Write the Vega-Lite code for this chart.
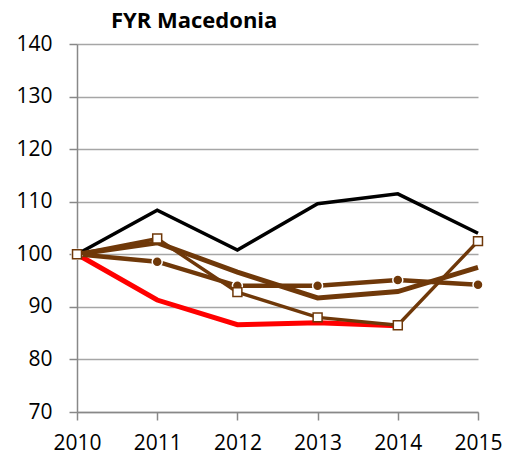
{
  "$schema": "https://vega.github.io/schema/vega-lite/v6.json",
  "width": 401,
  "height": 368,
  "autosize": {"type": "none"},
  "padding": {"left": 77, "top": 44, "right": 29, "bottom": 47},
  "config": {"view": {"stroke": null}, "font": "Open Sans"},
  "title": {"text": "FYR Macedonia", "fontSize": 22, "fontWeight": "bold", "anchor": "start", "dx": 95, "offset": 0, "color": "black", "font": "Open Sans"},
  "data": {"values": [
    {"series": "A", "year": 2010, "value": 100},
    {"series": "A", "year": 2011, "value": 108.4},
    {"series": "A", "year": 2012, "value": 100.8},
    {"series": "A", "year": 2013, "value": 109.6},
    {"series": "A", "year": 2014, "value": 111.5},
    {"series": "A", "year": 2015, "value": 104.0},
    {"series": "R", "year": 2010, "value": 100},
    {"series": "R", "year": 2011, "value": 91.3},
    {"series": "R", "year": 2012, "value": 86.6},
    {"series": "R", "year": 2013, "value": 87.0},
    {"series": "R", "year": 2014, "value": 86.4},
    {"series": "P", "year": 2010, "value": 100},
    {"series": "P", "year": 2011, "value": 102.2},
    {"series": "P", "year": 2012, "value": 96.6},
    {"series": "P", "year": 2013, "value": 91.7},
    {"series": "P", "year": 2014, "value": 92.9},
    {"series": "P", "year": 2015, "value": 97.5},
    {"series": "C", "year": 2010, "value": 100},
    {"series": "C", "year": 2011, "value": 98.6},
    {"series": "C", "year": 2012, "value": 94.0},
    {"series": "C", "year": 2013, "value": 94.0},
    {"series": "C", "year": 2014, "value": 95.1},
    {"series": "C", "year": 2015, "value": 94.2},
    {"series": "S", "year": 2010, "value": 100},
    {"series": "S", "year": 2011, "value": 103.0},
    {"series": "S", "year": 2012, "value": 92.8},
    {"series": "S", "year": 2013, "value": 88.0},
    {"series": "S", "year": 2014, "value": 86.5},
    {"series": "S", "year": 2015, "value": 102.5}
  ]},
  "encoding": {
    "x": {"field": "year", "type": "quantitative",
      "scale": {"domain": [2010, 2015], "nice": false, "zero": false},
      "axis": {"values": [2010, 2011, 2012, 2013, 2014, 2015], "format": "d", "grid": false, "title": null,
        "domainColor": "#888888", "domainWidth": 1.5, "tickColor": "#888888", "tickWidth": 1.5, "tickSize": 8,
        "labelFontSize": 21, "labelColor": "black", "labelPadding": 12, "labelFlush": false, "labelOverlap": false, "labelFont": "Open Sans"}},
    "y": {"field": "value", "type": "quantitative",
      "scale": {"domain": [70, 140], "nice": false},
      "axis": {"values": [70, 80, 90, 100, 110, 120, 130, 140], "grid": true, "gridColor": "#a6a6a6", "gridWidth": 1.5, "title": null,
        "domainColor": "#888888", "domainWidth": 1.5, "tickColor": "#888888", "tickWidth": 1.5, "tickSize": 8,
        "labelFontSize": 21, "labelColor": "black", "labelPadding": 17, "labelFont": "Open Sans"}}
  },
  "layer": [
    {"transform": [{"filter": "datum.series == 'A'"}], "mark": {"type": "line", "color": "black", "strokeWidth": 3.5}},
    {"transform": [{"filter": "datum.series == 'R'"}], "mark": {"type": "line", "color": "#ff0000", "strokeWidth": 5}},
    {"transform": [{"filter": "datum.series == 'P'"}], "mark": {"type": "line", "color": "#6f3809", "strokeWidth": 5}},
    {"transform": [{"filter": "datum.series == 'C'"}], "mark": {"type": "line", "color": "#6f3809", "strokeWidth": 4.5}},
    {"transform": [{"filter": "datum.series == 'C'"}], "mark": {"type": "point", "shape": "circle", "size": 100, "filled": true, "fill": "#6f3809", "stroke": "white", "strokeWidth": 1.5, "opacity": 1}},
    {"transform": [{"filter": "datum.series == 'S'"}], "mark": {"type": "line", "color": "#6f3809", "strokeWidth": 3.5}},
    {"transform": [{"filter": "datum.series == 'S'"}], "mark": {"type": "point", "shape": "square", "size": 80, "filled": true, "fill": "white", "stroke": "#6f3809", "strokeWidth": 1.5, "opacity": 1}}
  ]
}
